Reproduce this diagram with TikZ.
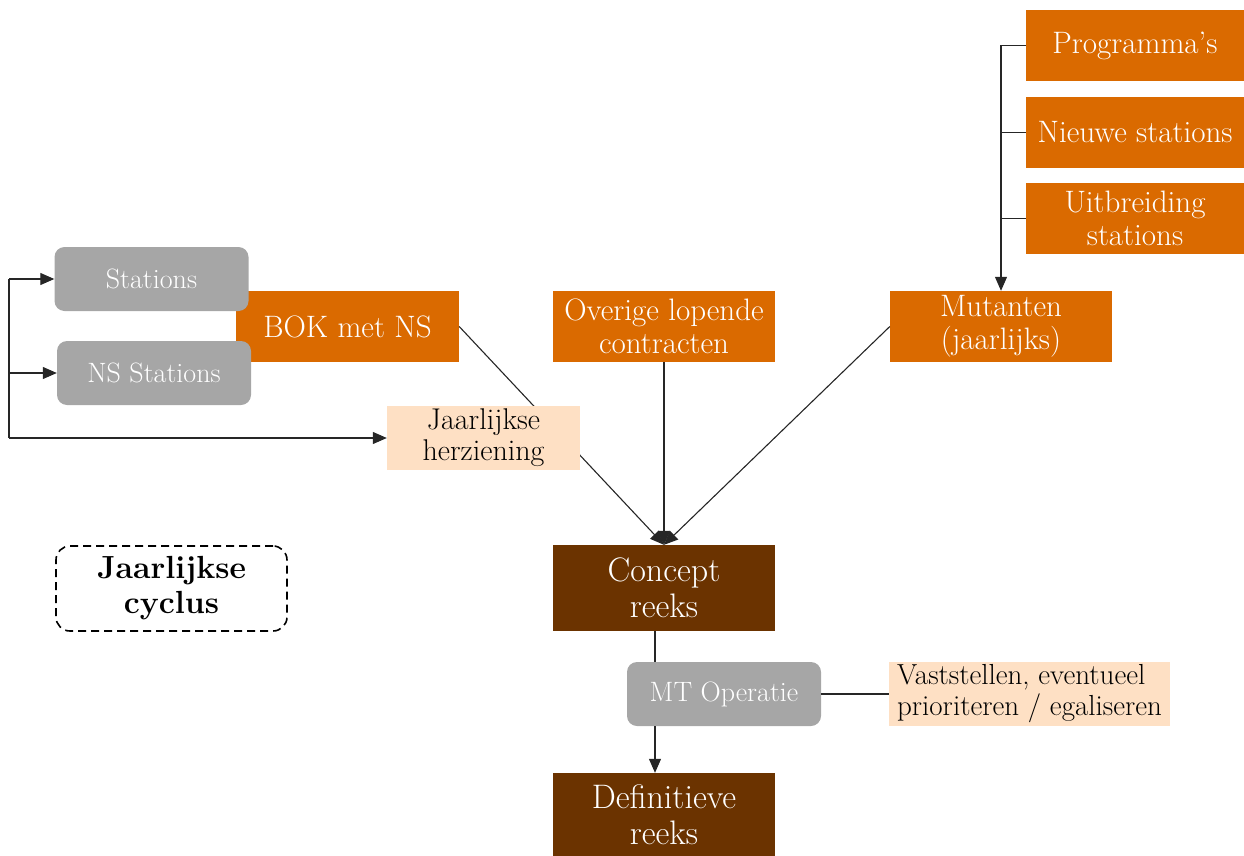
\documentclass[tikz,border=0pt]{standalone}
\usepackage{tikz}
\usetikzlibrary{arrows.meta}
\definecolor{oranje}{HTML}{DA6A00}
\definecolor{bruin}{HTML}{6B3300}
\definecolor{grijs}{HTML}{A6A6A6}
\definecolor{perzik}{HTML}{FEE0C4}
\tikzset{
    oranjebox/.style={fill=oranje, text=white, inner sep=0pt, align=center,
        font=\fontsize{31}{33}\selectfont},
    grijsbox/.style={fill=grijs, text=white, rounded corners=10pt, inner sep=0pt,
        minimum width=194pt, minimum height=64pt, font=\fontsize{28}{32}\selectfont},
    bruinbox/.style={fill=bruin, text=white, inner sep=0pt, align=center,
        minimum width=222pt, font=\fontsize{34}{36}\selectfont},
    perzikbox/.style={fill=perzik, inner sep=0pt, align=center,
        minimum height=64pt, font=\fontsize{30}{31}\selectfont},
    lijn/.style={line width=1.1pt, black!85},
    >={Triangle[length=14pt,width=12pt]}}

\begin{document}
\begin{tikzpicture}[x=1pt, y=-1pt]
    \useasboundingbox (0,0) rectangle (1244,856);

    \node[oranjebox, minimum width=223pt, minimum height=71pt] (bok) at (347.5,326.5) {BOK met NS};
    \node[grijsbox] (st) at (151.5,279) {Stations};
    \node[grijsbox] (nsst) at (154,373) {NS Stations};
    \node[oranjebox, minimum width=222pt, minimum height=71pt] (ov) at (664,326.5) {Overige lopende\\contracten};
    \node[oranjebox, minimum width=222pt, minimum height=71pt] (mut) at (1001,326.5) {Mutanten\\(jaarlijks)};
    \node[oranjebox, minimum width=218pt, minimum height=71pt] (prog) at (1135,45.5) {Programma’s};
    \node[oranjebox, minimum width=218pt, minimum height=71pt] (nieuw) at (1135,132.5) {Nieuwe stations};
    \node[oranjebox, minimum width=218pt, minimum height=71pt] (uitbr) at (1135,218.5) {Uitbreiding\\stations};
    \node[bruinbox, minimum height=86pt] (concept) at (664,588) {Concept\\reeks};
    \node[grijsbox] (mt) at (724,694) {MT Operatie};
    \node[perzikbox, minimum width=281pt, align=left, font=\fontsize{29}{31}\selectfont] (vast) at (1029.5,694) {Vaststellen, eventueel\\prioriteren / egaliseren};
    \node[bruinbox, minimum height=83pt] (def) at (664,814.5) {Definitieve\\reeks};
    \node[draw, dash pattern=on 8pt off 5pt, line width=1.6pt, rounded corners=14pt, minimum width=231pt, minimum height=85pt,
        align=center, font=\fontsize{32}{35}\selectfont\bfseries] (cyclus) at (171.5,588.5) {Jaarlijkse\\cyclus};

    \draw[->, lijn] (bok.east) -- (concept.north);
    \node[perzikbox, minimum width=193pt] (herz) at (483.5,438) {Jaarlijkse\\herziening};

    % linker beugel
    \coordinate (lt) at (9,279);
    \coordinate (lm) at (9,373);
    \coordinate (lb) at (9,438);
    \draw[lijn] (lt) -- (lb);
    \draw[->, lijn] (lt) -- (st.west);
    \draw[->, lijn] (lm) -- (nsst.west);
    \draw[->, lijn] (lb) -- (herz.west);

    % rechter beugel
    \coordinate (rt) at (1001,45.5);
    \draw[->, lijn] (rt) -- (mut.north);
    \draw[lijn] (rt) -- (prog.west);
    \draw[lijn] (rt |- nieuw.west) -- (nieuw.west);
    \draw[lijn] (rt |- uitbr.west) -- (uitbr.west);

    \draw[->, lijn] (ov.south) -- (concept.north);
    \draw[->, lijn] (mut.west) -- (concept.north);

    \draw[lijn] ([xshift=-9pt]concept.south) -- ([xshift=-9pt]concept.south |- mt.north);
    \draw[->, lijn] ([xshift=-9pt]concept.south |- mt.south) -- ([xshift=-9pt]def.north);
    \draw[lijn] (mt.east) -- (vast.west);

\end{tikzpicture}
\end{document}
